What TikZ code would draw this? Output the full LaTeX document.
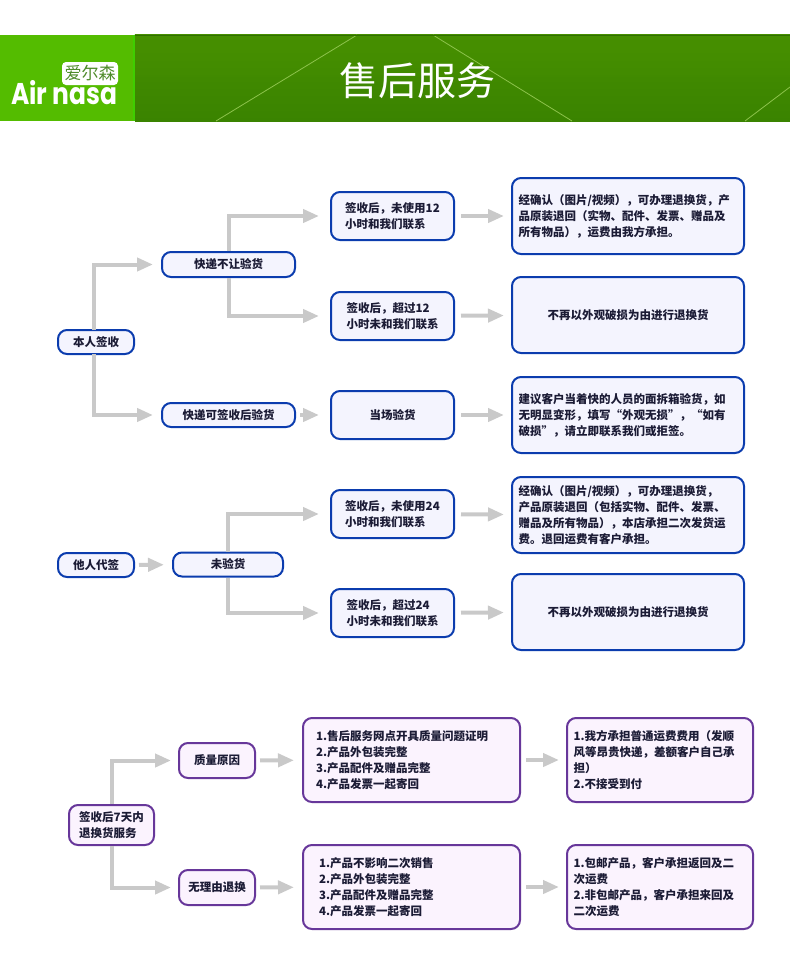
\documentclass[tikz,border=0pt]{standalone}
\usepackage{fontspec}
\setmainfont[Kerning=Off]{Noto Sans CJK SC}
\newfontfamily\logofont[FakeStretch=0.83]{Poppins}
\usetikzlibrary{arrows.meta,positioning,shapes,fadings}
\definecolor{blueline}{HTML}{0B3CAE}
\definecolor{bluefill}{HTML}{F4F4FE}
\definecolor{purpleline}{HTML}{67379A}
\definecolor{purplefill}{HTML}{FBF3FE}
\definecolor{flowgray}{HTML}{C9C9C9}
\definecolor{inkdark}{HTML}{1B1B35}
\definecolor{logogreen}{HTML}{54BC00}
\definecolor{logoink}{HTML}{4E8B2A}
\definecolor{bandtop}{HTML}{468F00}
\definecolor{bandlow}{HTML}{3A8300}
\definecolor{bandglow}{HTML}{5CA900}
\tikzset{
  box/.style={draw,line width=2pt,rounded corners=9pt,inner sep=0pt,text=inkdark,font=\fontsize{11.5}{16}\selectfont\bfseries},
  bluebox/.style={box,draw=blueline,fill=bluefill},
  purplebox/.style={box,draw=purpleline,fill=purplefill},
  flow/.style={draw=flowgray,line width=4pt,-{Triangle[length=16pt,width=13pt]}},
  bandline/.style={draw=bandglow!70!white,line width=.8pt}
}
\begin{document}
\begin{tikzpicture}[x=1pt,y=-1pt]
\useasboundingbox (0,0) rectangle (790,975);
% header band
\shade[top color=bandtop,bottom color=bandlow] (135,35) rectangle (790,121);
\shade[left color=bandtop,middle color=bandglow,right color=bandtop,path fading=south] (135,35) rectangle (790,85);
\draw[bandline] (216,121) -- (357,35);
\draw[bandline] (433,35) -- (572,121);
\draw[bandline] (745,121) -- (790,87);
\fill[bandlow!85!black] (135,35) rectangle (790,36);
\fill[logogreen] (0,35) rectangle (135,121);
\fill[green!25!logogreen] (133,35) rectangle (135,121);
\fill[rounded corners=4pt,white] (62,62) rectangle (118,85);
\node[text=logoink,font=\fontsize{17}{17}\selectfont] (logocn) at (90,73.5) {爱尔森};
\node[text=white,inner sep=0pt,anchor=west,font=\logofont\fontsize{30}{30}\selectfont\bfseries] (logoen) at (11,93) {Air\hspace{5pt}nasa};
\node[text=white,font=\fontsize{39}{39}\selectfont] (title) at (417,81) {售后服务};
% self-signed
\node[bluebox,minimum width=76pt,minimum height=24pt] (n0) at (96,342) {本人签收};
\node[bluebox,minimum width=133pt,minimum height=25pt] (n1) at (228.5,264.5) {快递不让验货};
\node[bluebox,minimum width=133pt,minimum height=24pt] (n2) at (228.5,415) {快递可签收后验货};
\node[bluebox,minimum width=123pt,minimum height=48pt,align=left] (n3) at (392.5,216) {签收后，未使用12\\小时和我们联系};
\node[bluebox,minimum width=123pt,minimum height=48pt,align=left] (n4) at (392.5,316) {签收后，超过12\\小时未和我们联系};
\node[bluebox,minimum width=123pt,minimum height=48pt] (n5) at (392.5,415) {当场验货};
\node[bluebox,minimum width=232pt,minimum height=76pt,text width=219pt,align=left] (n6) at (628,216) {经确认（图片/视频），可办理退换货，产\\品原装退回（实物、配件、发票、赠品及\\所有物品），运费由我方承担。};
\node[bluebox,minimum width=232pt,minimum height=76pt] (n7) at (628,315) {不再以外观破损为由进行退换货};
\node[bluebox,minimum width=232pt,minimum height=76pt,text width=219pt,align=left] (n8) at (628,415) {建议客户当着快的人员的面拆箱验货，如\\无明显变形，填写“外观无损”，“如有\\破损”，请立即联系我们或拒签。};
\draw[flow,shorten >=8pt] (94,330) |- (n1.west);
\draw[flow,shorten >=8pt] (94,354) |- (n2.west);
\draw[flow,shorten >=11pt] (n1.north) |- (n3.west);
\draw[flow,shorten >=11pt] (n1.south) |- (n4.west);
\draw[flow,shorten <=4pt,shorten >=11pt] (n2) -- (n5);
\draw[flow,shorten <=6pt,shorten >=7pt] (n3) -- (n6);
\draw[flow,shorten <=6pt,shorten >=7pt] (n4) -- (n7);
\draw[flow,shorten <=6pt,shorten >=7pt] (n5) -- (n8);
% signed by someone else
\node[bluebox,minimum width=76pt,minimum height=24pt] (n9) at (96,565) {他人代签};
\node[bluebox,minimum width=110pt,minimum height=24pt] (n10) at (228,564.5) {未验货};
\node[bluebox,minimum width=123pt,minimum height=48pt,align=left] (n11) at (392.5,514) {签收后，未使用24\\小时和我们联系};
\node[bluebox,minimum width=123pt,minimum height=48pt,align=left] (n12) at (392.5,613) {签收后，超过24\\小时未和我们联系};
\node[bluebox,minimum width=232pt,minimum height=76pt,text width=219pt,align=left] (n13) at (628,515) {经确认（图片/视频），可办理退换货，\\产品原装退回（包括实物、配件、发票、\\赠品及所有物品），本店承担二次发货运\\费。退回运费有客户承担。};
\node[bluebox,minimum width=232pt,minimum height=76pt] (n14) at (628,612) {不再以外观破损为由进行退换货};
\draw[flow,shorten <=4pt,shorten >=8pt] (n9) -- (n10);
\draw[flow,shorten >=11pt] (n10.north) |- (n11.west);
\draw[flow,shorten >=11pt] (n10.south) |- (n12.west);
\draw[flow,shorten <=6pt,shorten >=7pt] (n11) -- (n13);
\draw[flow,shorten <=6pt,shorten >=7pt] (n12) -- (n14);
% seven day returns
\node[purplebox,minimum width=85pt,minimum height=40pt,align=left] (n15) at (111.5,825) {签收后7天内\\退换货服务};
\node[purplebox,minimum width=76pt,minimum height=35pt] (n16) at (217,760.5) {质量原因};
\node[purplebox,minimum width=76pt,minimum height=35pt] (n17) at (217,887.5) {无理由退换};
\node[purplebox,minimum width=217pt,minimum height=84pt,text width=191pt,align=left] (n18) at (411.5,760) {1.售后服务网点开具质量问题证明\\2.产品外包装完整\\3.产品配件及赠品完整\\4.产品发票一起寄回};
\node[purplebox,minimum width=217pt,minimum height=84pt,text width=185pt,align=left] (n19) at (411.5,887) {1.产品不影响二次销售\\2.产品外包装完整\\3.产品配件及赠品完整\\4.产品发票一起寄回};
\node[purplebox,minimum width=186pt,minimum height=84pt,text width=173pt,align=left] (n20) at (660,760) {1.我方承担普通运费费用（发顺\\风等昂贵快递，差额客户自己承\\担）\\2.不接受到付};
\node[purplebox,minimum width=186pt,minimum height=84pt,text width=173pt,align=left] (n21) at (660,887) {1.包邮产品，客户承担返回及二\\次运费\\2.非包邮产品，客户承担来回及\\二次运费};
\draw[flow,shorten >=7pt] (n15.north) |- (n16.west);
\draw[flow,shorten >=7pt] (n15.south) |- (n17.west);
\draw[flow,shorten <=4pt,shorten >=8pt] (n16) -- (n18);
\draw[flow,shorten <=4pt,shorten >=8pt] (n17) -- (n19);
\draw[flow,shorten <=5pt,shorten >=7pt] (n18) -- (n20);
\draw[flow,shorten <=5pt,shorten >=7pt] (n19) -- (n21);
\end{tikzpicture}
\end{document}
